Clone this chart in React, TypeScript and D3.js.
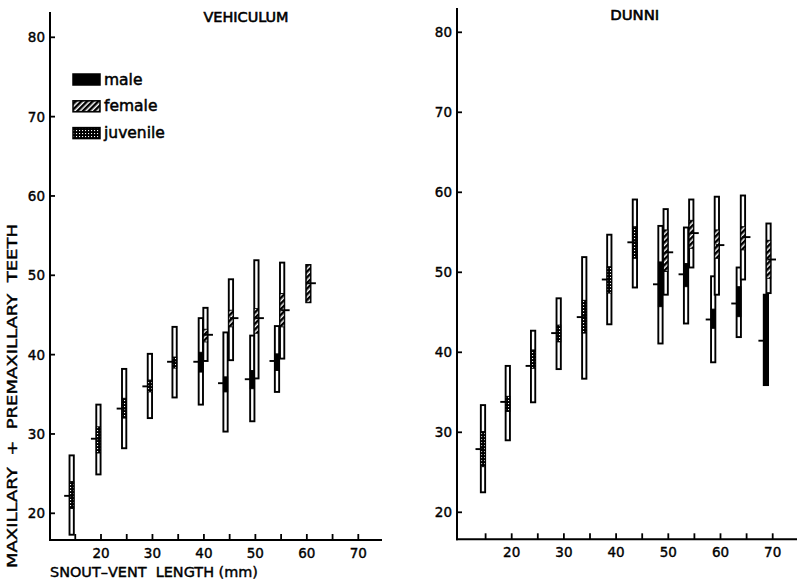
import React from 'react';
import * as d3 from 'd3';

const yTickValues = [20, 30, 40, 50, 60, 70, 80];
const xTickLabelValues = [20, 30, 40, 50, 60, 70];
const xTickMarkValues = [15, 20, 25, 30, 35, 40, 45, 50, 55, 60, 65, 70];
const legendLabels = ['male', 'female', 'juvenile'];
const legendKinds = ['m', 'f', 'j'];

// VEHICULUM: size-class position (mm), sex, range, ±2SE box, mean
const vehX = [14.3, 19.5, 24.5, 29.5, 34.3, 39.4, 40.3, 44.2, 45.25, 49.4, 50.2, 54.2, 55.2, 60.3];
const vehSex = ['j', 'j', 'j', 'j', 'j', 'm', 'f', 'm', 'f', 'm', 'f', 'm', 'f', 'f'];
const vehMin = [17.3, 24.9, 28.2, 32.0, 34.6, 33.7, 39.2, 30.3, 39.3, 31.6, 37.0, 35.3, 39.5, 46.6];
const vehMax = [27.3, 33.7, 38.2, 40.1, 43.5, 44.6, 45.9, 42.8, 49.5, 42.4, 51.9, 43.6, 51.6, 51.3];
const vehLo = [20.6, 27.6, 32.0, 35.3, 38.3, 37.8, 41.6, 35.3, 43.5, 35.7, 42.7, 38.0, 43.5, 46.6];
const vehHi = [24.0, 30.9, 34.5, 36.8, 39.7, 40.3, 43.2, 37.2, 45.6, 38.0, 45.8, 40.1, 47.7, 51.3];
const vehMean = [22.2, 29.4, 33.2, 36.0, 39.1, 39.1, 42.5, 36.4, 44.6, 36.9, 44.6, 39.2, 45.6, 49.0];

// DUNNI
const dunX = [14.5, 19.25, 24.1, 29.0, 33.9, 38.7, 43.6, 48.5, 49.5, 53.4, 54.4, 58.6, 59.3, 63.5, 64.3, 68.7, 69.2];
const dunSex = ['j', 'j', 'j', 'j', 'j', 'j', 'j', 'm', 'f', 'm', 'f', 'm', 'f', 'm', 'f', 'm', 'f'];
const dunMin = [22.5, 29.0, 33.75, 37.9, 36.7, 43.5, 48.1, 41.1, 47.2, 43.6, 50.6, 38.75, 47.2, 41.9, 49.1, 35.9, 47.4];
const dunMax = [33.4, 38.3, 42.7, 46.75, 51.9, 54.7, 59.1, 55.8, 57.9, 55.6, 59.1, 49.5, 59.45, 50.6, 59.6, 47.2, 56.1];
const dunLo = [25.7, 32.6, 38.0, 41.3, 42.4, 47.4, 51.75, 45.7, 50.1, 48.2, 53.0, 43.0, 51.75, 44.45, 52.8, 35.9, 49.25];
const dunHi = [30.1, 34.5, 40.3, 43.4, 46.5, 50.7, 55.7, 51.3, 55.3, 51.1, 56.5, 45.4, 55.3, 48.2, 55.7, 47.2, 54.0];
const dunMean = [27.9, 33.8, 38.3, 42.4, 44.4, 49.1, 53.75, 48.5, 52.5, 49.75, 54.9, 44.1, 53.4, 46.1, 54.4, 41.45, 51.6];

const FONT = '"DejaVu Sans", sans-serif';

function fillFor(s: string) {
  return s === 'm' ? '#000' : s === 'f' ? 'url(#fem)' : 'url(#juv)';
}

type PanelProps = {
  title: string;
  titleX: number;
  titleY: number;
  titleLen: number;
  axisX: number;
  axisTop: number;
  axisBottom: number;
  axisRight: number;
  xRange: [number, number];
  yRange: [number, number];
  xs: number[];
  sex: string[];
  mins: number[];
  maxs: number[];
  los: number[];
  his: number[];
  means: number[];
};

function Panel(p: PanelProps) {
  const x = d3.scaleLinear().domain([20, 70]).range(p.xRange);
  const y = d3.scaleLinear().domain([20, 80]).range(p.yRange);
  const bw = 4.3;
  return (
    <g>
      <text x={p.titleX} y={p.titleY} textAnchor="middle" fontFamily={FONT} fontSize={14.5}
        stroke="#000" strokeWidth={0.6} textLength={p.titleLen} lengthAdjust="spacingAndGlyphs">{p.title}</text>
      <line x1={p.axisX} x2={p.axisX} y1={p.axisTop} y2={p.axisBottom + 1} stroke="#000" strokeWidth={2} />
      <line x1={p.axisX - 1} x2={p.axisRight} y1={p.axisBottom} y2={p.axisBottom} stroke="#000" strokeWidth={2} />
      {yTickValues.map((t) => (
        <g key={'y' + t}>
          <line x1={p.axisX} x2={p.axisX + 5} y1={y(t)} y2={y(t)} stroke="#000" strokeWidth={1.8} />
          <text x={p.axisX - 5} y={y(t) + 5} textAnchor="end" fontFamily={FONT} fontSize={13.5}
            stroke="#000" strokeWidth={0.4}>{t}</text>
        </g>
      ))}
      {xTickMarkValues.map((t) => (
        <line key={'xm' + t} x1={x(t)} x2={x(t)} y1={p.axisBottom} y2={p.axisBottom - 6} stroke="#000" strokeWidth={1.8} />
      ))}
      {xTickLabelValues.map((t) => (
        <text key={'xl' + t} x={x(t)} y={p.axisBottom + 18} textAnchor="middle" fontFamily={FONT}
          fontSize={13.5} stroke="#000" strokeWidth={0.4}>{t}</text>
      ))}
      {p.xs.map((xv, i) => {
        const cx = x(xv);
        const top = y(p.maxs[i]);
        const bot = y(p.mins[i]);
        const hiY = y(p.his[i]);
        const loY = y(p.los[i]);
        const my = y(p.means[i]);
        const right = p.sex[i] === 'f';
        return (
          <g key={'b' + i}>
            <rect x={cx - bw / 2} y={top} width={bw} height={bot - top} fill="#fff" stroke="#000" strokeWidth={1.9} />
            <rect x={cx - bw / 2} y={hiY} width={bw} height={loY - hiY} fill={fillFor(p.sex[i])} stroke="#000" strokeWidth={0.9} />
            <line x1={right ? cx - 1 : cx - 7.5} x2={right ? cx + 7.5 : cx + 1} y1={my} y2={my} stroke="#000" strokeWidth={1.9} />
          </g>
        );
      })}
    </g>
  );
}

export default function App() {
  return (
    <svg width={799} height={585} viewBox="0 0 799 585"
      style={{ position: 'absolute', left: 0, top: 0, background: '#fff' }}>
      <defs>
        <pattern id="fem" patternUnits="userSpaceOnUse" width={4} height={4} patternTransform="rotate(45)">
          <rect x={0} y={0} width={4} height={4} fill="#fff" />
          <rect x={0} y={0} width={2.5} height={4} fill="#000" />
        </pattern>
        <pattern id="juv" patternUnits="userSpaceOnUse" width={3} height={3}>
          <rect x={0} y={0} width={3} height={3} fill="#000" />
          <rect x={1} y={1} width={1.1} height={1.1} fill="#fff" />
        </pattern>
      </defs>
      <rect x={0} y={0} width={799} height={585} fill="#fff" />

      <Panel title="VEHICULUM" titleX={246} titleY={22} titleLen={85}
        axisX={50} axisTop={12} axisBottom={540} axisRight={382}
        xRange={[101, 358.3]} yRange={[513.3, 37.3]}
        xs={vehX} sex={vehSex} mins={vehMin} maxs={vehMax} los={vehLo} his={vehHi} means={vehMean} />
      <Panel title="DUNNI" titleX={634.7} titleY={20} titleLen={49}
        axisX={457} axisTop={8} axisBottom={539.3} axisRight={797}
        xRange={[511.7, 772.7]} yRange={[512.3, 32.3]}
        xs={dunX} sex={dunSex} mins={dunMin} maxs={dunMax} los={dunLo} his={dunHi} means={dunMean} />

      {legendLabels.map((lab, i) => {
        const ly = 74 + i * 26.8;
        const k = legendKinds[i];
        return (
          <g key={lab}>
            <rect x={73} y={ly} width={27} height={11} fill={fillFor(k)} stroke="#000" strokeWidth={1.5} />
            <text x={104} y={ly + 10.5} fontFamily={FONT} fontSize={15.5} stroke="#000" strokeWidth={0.5}>{lab}</text>
          </g>
        );
      })}

      <text x={50} y={577} fontFamily={FONT} fontSize={13.5} stroke="#000" strokeWidth={0.4}
        textLength={208} lengthAdjust="spacingAndGlyphs" style={{ whiteSpace: 'pre' }}>{'SNOUT–VENT  LENGTH (mm)'}</text>
      <text transform="translate(17,396) rotate(-90)" textAnchor="middle" fontFamily={FONT} fontSize={13.5}
        stroke="#000" strokeWidth={0.4} textLength={344} lengthAdjust="spacingAndGlyphs"
        style={{ whiteSpace: 'pre' }}>{'MAXILLARY  +  PREMAXILLARY  TEETH'}</text>
    </svg>
  );
}
